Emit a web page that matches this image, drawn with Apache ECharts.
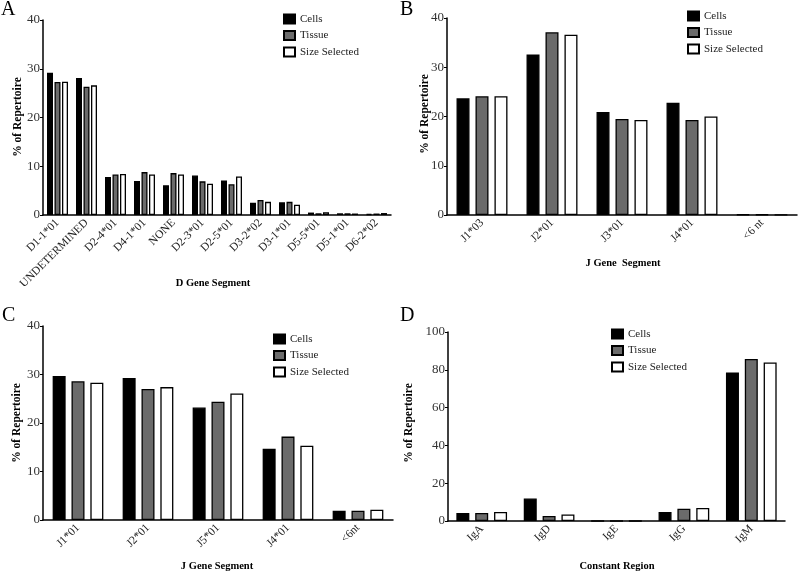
<!DOCTYPE html>
<html><head><meta charset="utf-8">
<script src="https://cdn.jsdelivr.net/npm/echarts@6/dist/echarts.min.js"></script>
<style>html,body{margin:0;padding:0;background:#fff}#c{width:800px;height:575px}</style>
</head><body><div id="c"></div>
<script>
var seriesNames = ['Cells', 'Tissue', 'Size Selected'];

var catsA = ['D1-1*01','UNDETERMINED','D2-4*01','D4-1*01','NONE','D2-3*01','D2-5*01','D3-2*02','D3-1*01','D5-5*01','D5-1*01','D6-2*02'];
var cellsA = [29.2, 28.1, 7.8, 7.0, 6.1, 8.1, 7.1, 2.5, 2.6, 0.5, 0.35, 0.2];
var tissueA = [27.3, 26.3, 8.3, 8.8, 8.6, 6.9, 6.3, 3.1, 2.7, 0.35, 0.35, 0.3];
var sizeA = [27.35, 26.6, 8.4, 8.3, 8.3, 6.4, 7.9, 2.7, 2.1, 0.55, 0.3, 0.4];

var catsB = ['J1*03','J2*01','J3*01','J4*01','<6 nt'];
var cellsB = [23.7, 32.6, 20.9, 22.8, 0.1];
var tissueB = [24.1, 37.1, 19.5, 19.3, 0.1];
var sizeB = [24.1, 36.6, 19.3, 20.0, 0.05];

var catsC = ['J1*01','J2*01','J5*01','J4*01','<6nt'];
var cellsC = [29.7, 29.3, 23.2, 14.7, 1.9];
var tissueC = [28.6, 27.0, 24.4, 17.2, 1.9];
var sizeC = [28.3, 27.4, 26.1, 15.3, 2.1];

var catsD = ['IgA','IgD','IgE','IgG','IgM'];
var cellsD = [4.2, 11.9, 0, 4.8, 78.6];
var tissueD = [4.2, 2.7, 0, 6.5, 85.7];
var sizeD = [4.8, 3.5, 0, 6.9, 83.9];

var yTitle = '% of Repertoire';
var xTitles = ['D Gene Segment', 'J Gene  Segment', 'J Gene Segment', 'Constant Region'];
var panelLetters = ['A', 'B', 'C', 'D'];

var FONT = 'Liberation Serif';
var fills = ['#000000', '#6b6b6b', '#ffffff'];

var grids = [
  {left: 43, top: 20, width: 348, height: 195},
  {left: 447, top: 18, width: 350, height: 197},
  {left: 43, top: 326, width: 350, height: 194},
  {left: 448, top: 332, width: 337, height: 189}
];
var cats = [catsA, catsB, catsC, catsD];
var data = [[cellsA, tissueA, sizeA], [cellsB, tissueB, sizeB], [cellsC, tissueC, sizeC], [cellsD, tissueD, sizeD]];
var ymax = [40, 40, 40, 100];
var yint = [10, 10, 10, 20];
var bw = [6, 13, 13, 13];
var bgap = ['25%', '46%', '45%', '45%'];

var xAxes = [], yAxes = [], series = [];
for (var i = 0; i < 4; i++) {
  xAxes.push({
    type: 'category', gridIndex: i, data: cats[i],
    axisLine: {lineStyle: {color: '#000', width: 1.5}},
    axisTick: {alignWithLabel: true, length: 4, lineStyle: {color: '#000', width: 1}},
    axisLabel: {rotate: 45, fontFamily: FONT, fontSize: 11.5, color: '#222', margin: 6, interval: 0}
  });
  yAxes.push({
    type: 'value', gridIndex: i, min: 0, max: ymax[i], interval: yint[i],
    axisLine: {show: true, lineStyle: {color: '#000', width: 1.5}},
    axisTick: {show: true, length: 3, lineStyle: {color: '#000', width: 1}},
    axisLabel: {fontFamily: FONT, fontSize: 13, color: '#333', margin: 3},
    splitLine: {show: false}
  });
  for (var s = 0; s < 3; s++) {
    series.push({
      type: 'bar', name: seriesNames[s], xAxisIndex: i, yAxisIndex: i,
      data: data[i][s], barWidth: bw[i], barGap: bgap[i],
      itemStyle: {color: fills[s], borderColor: '#000', borderWidth: 1.3},
      silent: true
    });
  }
}

var legendPos = [{left: 283, top: 12}, {left: 687, top: 9}, {left: 273, top: 332}, {left: 611, top: 327}];
var legends = legendPos.map(function (p) {
  return {
    data: seriesNames, orient: 'vertical', left: p.left, top: p.top, padding: 0,
    itemWidth: 11, itemHeight: 9, itemGap: 2.5, icon: 'rect',
    textStyle: {fontFamily: FONT, fontSize: 11, lineHeight: 14, color: '#222', padding: [0, 0, 0, 0]},
    selectedMode: false
  };
});

var yTitlePos = [[18, 117], [425, 114], [17, 423], [409, 423]];
var xTitlePos = [[213, 283], [623, 263], [217, 566], [617, 566]];
var letterPos = [[1, 0], [400, 0], [2, 306], [400, 306]];
var graphics = [];
for (var k = 0; k < 4; k++) {
  graphics.push({type: 'text', x: yTitlePos[k][0], y: yTitlePos[k][1], rotation: Math.PI / 2,
    style: {text: yTitle, fontFamily: FONT, fontSize: 11.5, fontWeight: 'bold', fill: '#000', textAlign: 'center', textVerticalAlign: 'middle'}});
  graphics.push({type: 'text', x: xTitlePos[k][0], y: xTitlePos[k][1],
    style: {text: xTitles[k], fontFamily: FONT, fontSize: 10.5, fontWeight: 'bold', fill: '#000', textAlign: 'center', textVerticalAlign: 'middle'}});
  graphics.push({type: 'text', x: letterPos[k][0], y: letterPos[k][1],
    style: {text: panelLetters[k], fontFamily: FONT, fontSize: 20, fill: '#000', textAlign: 'left', textVerticalAlign: 'top'}});
}

var chart = echarts.init(document.getElementById('c'), null, {renderer: 'canvas'});
chart.setOption({
  animation: false,
  backgroundColor: '#fff',
  grid: grids,
  xAxis: xAxes,
  yAxis: yAxes,
  series: series,
  legend: legends,
  graphic: graphics
});
</script></body></html>
